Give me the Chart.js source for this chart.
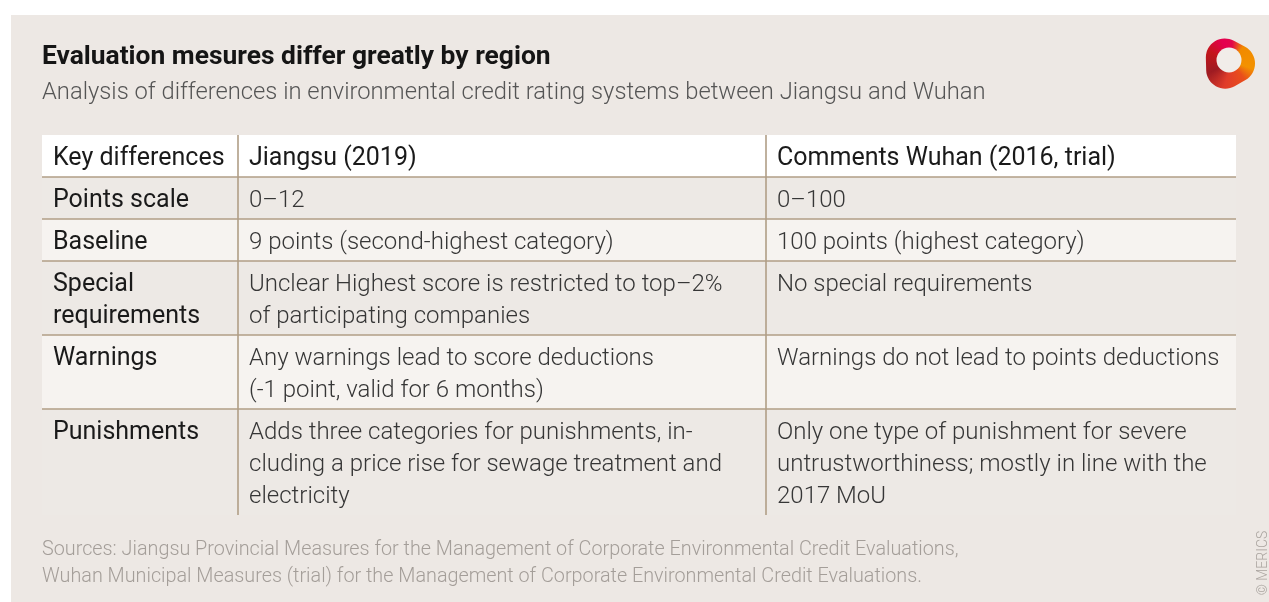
<!DOCTYPE html>
<html>
<head>
<meta charset="utf-8">
<script src="https://cdn.jsdelivr.net/npm/chart.js@4.4.1/dist/chart.umd.min.js"></script>
<style>
  html, body { margin: 0; padding: 0; background: #ffffff; }
  #panel { position: absolute; left: 11px; top: 15px; width: 1258px; height: 587px; background: #ede8e4; }
  canvas { display: block; }
</style>
</head>
<body>
<div id="panel"><canvas id="tableChart" width="1258" height="587"></canvas></div>
<script>
// table content
var headers = ['Key differences', 'Jiangsu (2019)', 'Comments Wuhan (2016, trial)'];
var categories = [['Points scale'], ['Baseline'], ['Special', 'requirements'], ['Warnings'], ['Punishments']];
var jiangsu = [
  ['0–12'],
  ['9 points (second-highest category)'],
  ['Unclear Highest score is restricted to top–2%', 'of participating companies'],
  ['Any warnings lead to score deductions', '(-1 point, valid for 6 months)'],
  ['Adds three categories for punishments, in-', 'cluding a price rise for sewage treatment and', 'electricity']
];
var wuhan = [
  ['0–100'],
  ['100 points (highest category)'],
  ['No special requirements'],
  ['Warnings do not lead to points deductions'],
  ['Only one type of punishment for severe', 'untrustworthiness; mostly in line with the', '2017 MoU']
];
var sources = [
  'Sources: Jiangsu Provincial Measures for the Management of Corporate Environmental Credit Evaluations,',
  'Wuhan Municipal Measures (trial) for the Management of Corporate Environmental Credit Evaluations.'
];

// layout (scale units)
var COL_WIDTHS = [196, 528, 470];
var LINE_H = 32;
var CELL_PAD = 10;
var TEXT_NUDGE = 3; // canvas 'middle' sits a bit high for Roboto
var BG_HEAD = '#ffffff', BG_DARK = '#ede9e5', BG_LIGHT = '#f6f3f0';
var RULE = '#b09e86';
var FONT = 'Roboto, "Liberation Sans", sans-serif';

// rows = header + body rows, each with its lines
var rows = [{ cells: headers.map(function (h) { return [h]; }), head: true }];
for (var i = 0; i < categories.length; i++) {
  rows.push({ cells: [categories[i], jiangsu[i], wuhan[i]], head: false });
}
var rowTops = [], total = 0;
rows.forEach(function (r) {
  r.lines = Math.max.apply(null, r.cells.map(function (c) { return c.length; }));
  rowTops.push(total);
  total += CELL_PAD + r.lines * LINE_H;
});
var colStarts = [0];
COL_WIDTHS.forEach(function (w, k) { colStarts.push(colStarts[k] + w); });

var tablePlugin = {
  id: 'tableDraw',
  beforeDatasetsDraw: function (chart) {
    var ctx = chart.ctx, xs = chart.scales.x, ys = chart.scales.y;
    var left = xs.getPixelForValue(0), right = xs.getPixelForValue(colStarts[3]);
    ctx.save();
    // row backgrounds
    rows.forEach(function (r, ri) {
      var y0 = ys.getPixelForValue(rowTops[ri]);
      var y1 = ys.getPixelForValue(rowTops[ri] + CELL_PAD + r.lines * LINE_H);
      ctx.fillStyle = r.head ? BG_HEAD : (ri % 2 === 1 ? BG_DARK : BG_LIGHT);
      ctx.fillRect(left, y0, right - left, y1 - y0);
    });
    // horizontal rules
    ctx.strokeStyle = RULE;
    ctx.lineWidth = 1.6;
    for (var ri = 1; ri < rows.length; ri++) {
      var y = ys.getPixelForValue(rowTops[ri]);
      ctx.beginPath(); ctx.moveTo(left, y); ctx.lineTo(right, y); ctx.stroke();
    }
    // column rules
    [1, 2].forEach(function (c) {
      var x = xs.getPixelForValue(colStarts[c]);
      ctx.beginPath();
      ctx.moveTo(x, ys.getPixelForValue(0));
      ctx.lineTo(x, ys.getPixelForValue(total));
      ctx.stroke();
    });
    // text
    ctx.textBaseline = 'middle';
    ctx.textAlign = 'left';
    rows.forEach(function (r, ri) {
      r.cells.forEach(function (lines, c) {
        var strong = r.head || c === 0;
        ctx.font = (strong ? '400 25px ' : '300 24px ') + FONT;
        ctx.fillStyle = strong ? '#1a1a1a' : '#363636';
        var x = xs.getPixelForValue(colStarts[c]) + 11;
        lines.forEach(function (t, li) {
          var y = ys.getPixelForValue(rowTops[ri] + CELL_PAD / 2 + LINE_H * (li + 0.5)) + TEXT_NUDGE;
          ctx.fillText(t, x, y);
        });
      });
    });
    ctx.restore();
  },
  afterDraw: function (chart) {
    var ctx = chart.ctx, area = chart.chartArea;
    ctx.save();
    // sources
    ctx.font = '300 19.8px ' + FONT;
    ctx.fillStyle = '#a49e99';
    ctx.textBaseline = 'middle';
    sources.forEach(function (s, k) { ctx.fillText(s, area.left, area.bottom + 35 + k * 27); });
    // copyright
    ctx.translate(1252, 548);
    ctx.rotate(-Math.PI / 2);
    ctx.font = '300 14px ' + FONT;
    ctx.textAlign = 'center';
    ctx.fillStyle = '#aaa49f';
    ctx.fillText('© MERICS', 0, 0);
    ctx.restore();
    // logo: rounded triangular ribbon
    ctx.save();
    var cx = 1221, cy = 47;
    var g = ctx.createConicGradient(-Math.PI / 2, cx, cy);
    g.addColorStop(0, '#e2064a');
    g.addColorStop(0.1, '#f18a00');
    g.addColorStop(0.3, '#f39200');
    g.addColorStop(0.4, '#e94e1b');
    g.addColorStop(0.55, '#e03c2a');
    g.addColorStop(0.68, '#9e1b22');
    g.addColorStop(0.82, '#c4161c');
    g.addColorStop(0.93, '#e5004f');
    g.addColorStop(1, '#e2064a');
    ctx.fillStyle = g;
    var p1 = [1194, 10], p2 = [1264, 48], p3 = [1196, 87];
    ctx.beginPath();
    ctx.moveTo((p1[0] + p3[0]) / 2, (p1[1] + p3[1]) / 2);
    ctx.arcTo(p1[0], p1[1], p2[0], p2[1], 19);
    ctx.arcTo(p2[0], p2[1], p3[0], p3[1], 19);
    ctx.arcTo(p3[0], p3[1], p1[0], p1[1], 19);
    ctx.closePath();
    ctx.fill();
    ctx.fillStyle = '#f1ede9';
    ctx.beginPath(); ctx.arc(1218, 45, 12.5, 0, Math.PI * 2); ctx.fill();
    ctx.restore();
  }
};

var ctx = document.getElementById('tableChart').getContext('2d');
var tableChart = new Chart(ctx, {
  type: 'scatter',
  data: {
    datasets: [{
      label: 'cells',
      data: rows.map(function (r, ri) { return { x: 0, y: rowTops[ri] }; }),
      pointRadius: 0
    }]
  },
  options: {
    responsive: false,
    devicePixelRatio: 1,
    animation: false,
    layout: { padding: { left: 31, right: 33, top: 10, bottom: 87 } },
    scales: {
      x: { type: 'linear', display: false, min: 0, max: colStarts[3] },
      y: { type: 'linear', display: false, min: 0, max: total, reverse: true }
    },
    plugins: {
      legend: { display: false },
      tooltip: { enabled: false },
      title: {
        display: true, align: 'start', text: 'Evaluation mesures differ greatly by region',
        color: '#151515', font: { family: FONT, size: 26.4, weight: 'bold', lineHeight: '30px' },
        padding: { top: 17, bottom: 0 }
      },
      subtitle: {
        display: true, align: 'start',
        text: 'Analysis of differences in environmental credit rating systems between Jiangsu and Wuhan',
        color: '#555555', font: { family: FONT, size: 23.75, weight: '300', lineHeight: '28px' },
        padding: { top: 7, bottom: 28 }
      }
    }
  },
  plugins: [tablePlugin]
});
</script>
</body>
</html>
